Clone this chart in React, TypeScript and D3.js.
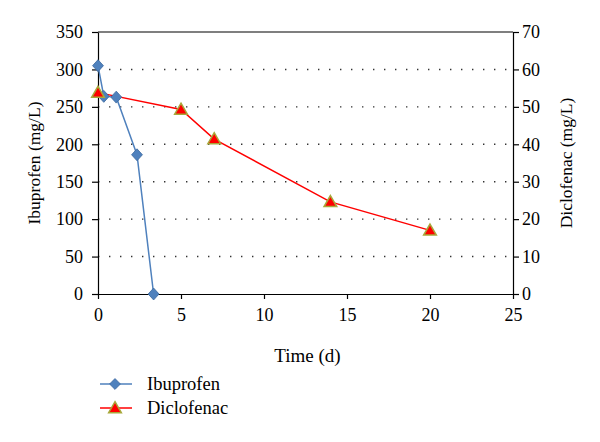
import { useEffect, useRef } from 'react';
import * as d3 from 'd3';

// Time (d) and concentrations
const ibuTime = [0, 0.35, 1.1, 2.35, 3.35];
const ibuValues = [305, 264, 263, 186, 0];
const dicTime = [0, 5, 7, 14, 20];
const dicValues = [53.8, 49.3, 41.4, 24.6, 17.0];

const leftTicks = [0, 50, 100, 150, 200, 250, 300, 350];
const rightTicks = [0, 10, 20, 30, 40, 50, 60, 70];
const xTicks = [0, 5, 10, 15, 20, 25];

const App = () => {
  const chartRef = useRef<SVGSVGElement>(null);

  useEffect(() => {
    const svg = d3.select(chartRef.current);
    svg.selectAll('*').remove();

    const font = '"Liberation Serif", "Times New Roman", serif';
    const margin = { top: 32, right: 87, bottom: 148, left: 98 };
    const width = 600 - margin.left - margin.right;
    const height = 442 - margin.top - margin.bottom;

    const x = d3.scaleLinear().domain([0, 25]).range([0, width]);
    const yL = d3.scaleLinear().domain([0, 350]).range([height, 0]);
    const yR = d3.scaleLinear().domain([0, 70]).range([height, 0]);

    const g = svg.append('g').attr('transform', `translate(${margin.left},${margin.top})`);

    // dotted gridlines
    g.selectAll('line.grid')
      .data(leftTicks.filter((t) => t > 0 && t < 350))
      .enter()
      .append('line')
      .attr('x1', 0)
      .attr('x2', width)
      .attr('y1', (d) => yL(d))
      .attr('y2', (d) => yL(d))
      .attr('stroke', '#333')
      .attr('stroke-width', 1.4)
      .attr('stroke-dasharray', '1.4,9.6');

    // top border
    g.append('line').attr('x1', 0).attr('x2', width).attr('y1', 0).attr('y2', 0)
      .attr('stroke', '#000').attr('stroke-width', 1.2);

    const styleAxis = (sel: any) => {
      sel.select('.domain').attr('stroke', '#000').attr('stroke-width', 1.2);
      sel.selectAll('.tick line').attr('stroke', '#000').attr('stroke-width', 1.2);
      sel.selectAll('.tick text').attr('font-family', font).attr('font-size', 18).attr('fill', '#000');
    };

    g.append('g')
      .attr('transform', `translate(0,${height})`)
      .call(d3.axisBottom(x).tickValues(xTicks).tickSize(5).tickSizeOuter(0).tickPadding(9))
      .call(styleAxis);

    g.append('g')
      .call(d3.axisLeft(yL).tickValues(leftTicks).tickSize(6).tickSizeOuter(0).tickPadding(9))
      .call(styleAxis);

    g.append('g')
      .attr('transform', `translate(${width},0)`)
      .call(d3.axisRight(yR).tickValues(rightTicks).tickSize(6).tickSizeOuter(0).tickPadding(3))
      .call(styleAxis);

    // axis titles
    svg.append('text')
      .attr('transform', `translate(40,${margin.top + height / 2}) rotate(-90)`)
      .attr('text-anchor', 'middle')
      .attr('font-family', font).attr('font-size', 17.5)
      .text('Ibuprofen (mg/L)');

    svg.append('text')
      .attr('transform', `translate(572,${margin.top + height / 2}) rotate(-90)`)
      .attr('text-anchor', 'middle')
      .attr('font-family', font).attr('font-size', 17.5)
      .text('Diclofenac (mg/L)');

    svg.append('text')
      .attr('x', margin.left + width / 2 + 2)
      .attr('y', 362)
      .attr('text-anchor', 'middle')
      .attr('font-family', font).attr('font-size', 19)
      .text('Time (d)');

    const blue = '#4F81BD';
    const red = '#FF0000';
    const triStroke = '#A8A83A';

    const ibu = ibuTime.map((t, i) => [t, ibuValues[i]]);
    const dic = dicTime.map((t, i) => [t, dicValues[i]]);

    g.append('path')
      .datum(ibu)
      .attr('fill', 'none')
      .attr('stroke', blue)
      .attr('stroke-width', 1.5)
      .attr('d', d3.line().x((d) => x(d[0])).y((d) => yL(d[1])));

    g.append('path')
      .datum(dic)
      .attr('fill', 'none')
      .attr('stroke', red)
      .attr('stroke-width', 1.5)
      .attr('d', d3.line().x((d) => x(d[0])).y((d) => yR(d[1])));

    const diamond = d3.symbol().type(d3.symbolDiamond2).size(75);
    const triangle = d3.symbol().type(d3.symbolTriangle).size(70);

    g.selectAll('path.ibu')
      .data(ibu)
      .enter()
      .append('path')
      .attr('transform', (d) => `translate(${x(d[0])},${yL(d[1])}) scale(1,1.1)`)
      .attr('d', diamond())
      .attr('fill', blue)
      .attr('stroke', '#3d6aa0')
      .attr('stroke-width', 0.8);

    g.selectAll('path.dic')
      .data(dic)
      .enter()
      .append('path')
      .attr('transform', (d) => `translate(${x(d[0])},${yR(d[1]) + 1})`)
      .attr('d', triangle())
      .attr('fill', red)
      .attr('stroke', triStroke)
      .attr('stroke-width', 1.5);

    // legend
    const legend = svg.append('g');
    const items = [
      { name: 'Ibuprofen', color: blue, sym: diamond, stroke: '#3d6aa0', y: 384 },
      { name: 'Diclofenac', color: red, sym: triangle, stroke: triStroke, y: 408 },
    ];
    items.forEach((it) => {
      legend.append('line')
        .attr('x1', 100).attr('x2', 132).attr('y1', it.y).attr('y2', it.y)
        .attr('stroke', it.color).attr('stroke-width', 1.5);
      legend.append('path')
        .attr('transform', `translate(115,${it.y + (it.name === 'Diclofenac' ? 1 : 0)})`)
        .attr('d', it.sym())
        .attr('fill', it.color)
        .attr('stroke', it.stroke)
        .attr('stroke-width', it.name === 'Diclofenac' ? 1.5 : 0.8);
      legend.append('text')
        .attr('x', 147).attr('y', it.y + 6)
        .attr('font-family', font).attr('font-size', 18.5)
        .text(it.name);
    });

    return () => {
      d3.select(chartRef.current).selectAll('*').remove();
    };
  }, []);

  return (
    <div style={{ margin: -8 }}>
      <svg ref={chartRef} width={600} height={442} style={{ display: 'block', background: '#fff' }}></svg>
    </div>
  );
};

export default App;
